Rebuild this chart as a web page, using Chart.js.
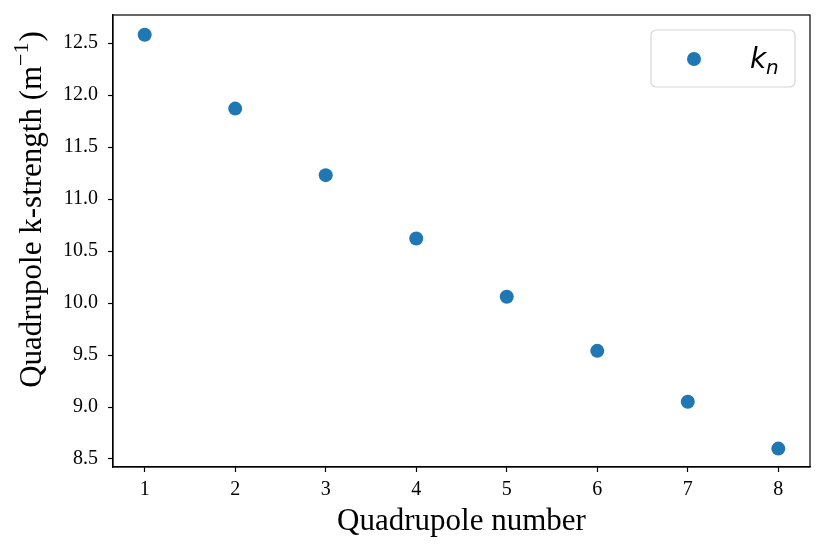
<!DOCTYPE html>
<html lang="en">
<head>
  <meta charset="UTF-8" />
  <title>Quadrupole k-strength</title>
  <script src="https://cdn.jsdelivr.net/npm/chart.js"></script>
  <style>
    html, body { margin: 0; padding: 0; background: #fff; }
    canvas { display: block; }
  </style>
</head>
<body>
  <canvas id="chart" width="825" height="553"></canvas>
  <script>
    // data
    const quadNumbers = [1, 2, 3, 4, 5, 6, 7, 8];
    const kStrength = [12.58, 11.87, 11.23, 10.62, 10.06, 9.54, 9.05, 8.60];
    const xTicks = [1, 2, 3, 4, 5, 6, 7, 8];
    const yTicks = [8.5, 9.0, 9.5, 10.0, 10.5, 11.0, 11.5, 12.0, 12.5];

    const blue = '#1f77b4';
    const serif = "'Liberation Serif', 'Times New Roman', serif";

    // frame on all four sides, y title with real superscript, legend with subscript
    const framePlugin = {
      id: 'frame',
      afterDraw(chart) {
        const { ctx, chartArea: a } = chart;
        ctx.save();
        ctx.strokeStyle = '#000';
        ctx.lineWidth = 1.2;
        ctx.strokeRect(a.left, a.top, a.right - a.left, a.bottom - a.top);

        // y axis title: Quadrupole k-strength (m^-1)
        const parts = [
          { t: 'Quadrupole k-strength (m', f: `31px ${serif}`, dy: 0 },
          { t: '\u22121', f: `22px ${serif}`, dy: -13 },
          { t: ')', f: `31px ${serif}`, dy: 0 }
        ];
        let w = 0;
        parts.forEach(p => { ctx.font = p.f; p.w = ctx.measureText(p.t).width; w += p.w; });
        ctx.translate(41, 210);
        ctx.rotate(-Math.PI / 2);
        ctx.fillStyle = '#000';
        ctx.textBaseline = 'alphabetic';
        ctx.textAlign = 'left';
        let px = -w / 2;
        parts.forEach(p => { ctx.font = p.f; ctx.fillText(p.t, px, p.dy); px += p.w + (p.dy ? 1 : 0); });
        ctx.setTransform(1, 0, 0, 1, 0, 0);

        // legend box
        const lx = 651, ly = 30, lw = 144, lh = 57;
        ctx.beginPath();
        ctx.roundRect(lx, ly, lw, lh, 5);
        ctx.fillStyle = 'rgba(255,255,255,0.8)';
        ctx.fill();
        ctx.strokeStyle = '#d6d6d6';
        ctx.lineWidth = 1.2;
        ctx.stroke();

        ctx.beginPath();
        ctx.arc(694, 59, 7, 0, Math.PI * 2);
        ctx.fillStyle = blue;
        ctx.fill();

        ctx.fillStyle = '#000';
        ctx.font = "italic 28px 'DejaVu Sans'";
        ctx.fillText('k', 750, 68);
        ctx.font = "italic 20px 'DejaVu Sans'";
        ctx.fillText('n', 766, 74);
        ctx.restore();
      }
    };

    new Chart(document.getElementById('chart'), {
      type: 'scatter',
      data: {
        datasets: [{
          label: 'k_n',
          data: quadNumbers.map((q, i) => ({ x: q, y: kStrength[i] })),
          backgroundColor: blue,
          borderColor: blue,
          pointRadius: 7,
          pointHoverRadius: 7,
          borderWidth: 0
        }]
      },
      options: {
        responsive: false,
        animation: false,
        layout: { padding: { top: 15, right: 15, left: 0, bottom: 0 } },
        plugins: {
          legend: { display: false },
          tooltip: { enabled: false }
        },
        scales: {
          x: {
            type: 'linear',
            min: 0.65,
            max: 8.35,
            afterBuildTicks: s => { s.ticks = xTicks.map(v => ({ value: v })); },
            afterFit: s => { s.height = 86; s.paddingLeft = 0; s.paddingRight = 0; },
            grid: { drawOnChartArea: false, tickLength: 5, tickColor: '#000', tickWidth: 1.2 },
            border: { color: '#000', width: 1.2 },
            ticks: { color: '#000', padding: 6, font: { family: serif, size: 20 } },
            title: {
              display: true,
              text: 'Quadrupole number',
              color: '#000',
              padding: { top: 13, bottom: 13 },
              font: { family: serif, size: 31 }
            }
          },
          y: {
            type: 'linear',
            min: 8.423,
            max: 12.77,
            afterBuildTicks: s => { s.ticks = yTicks.map(v => ({ value: v })); },
            afterFit: s => { s.width = 113; s.paddingTop = 0; s.paddingBottom = 0; },
            grid: { drawOnChartArea: false, tickLength: 5, tickColor: '#000', tickWidth: 1.2 },
            border: { color: '#000', width: 1.2 },
            ticks: {
              color: '#000',
              padding: 10,
              font: { family: serif, size: 20 },
              callback: v => v.toFixed(1)
            },
            title: { display: false }
          }
        }
      },
      plugins: [framePlugin]
    });
  </script>
</body>
</html>
